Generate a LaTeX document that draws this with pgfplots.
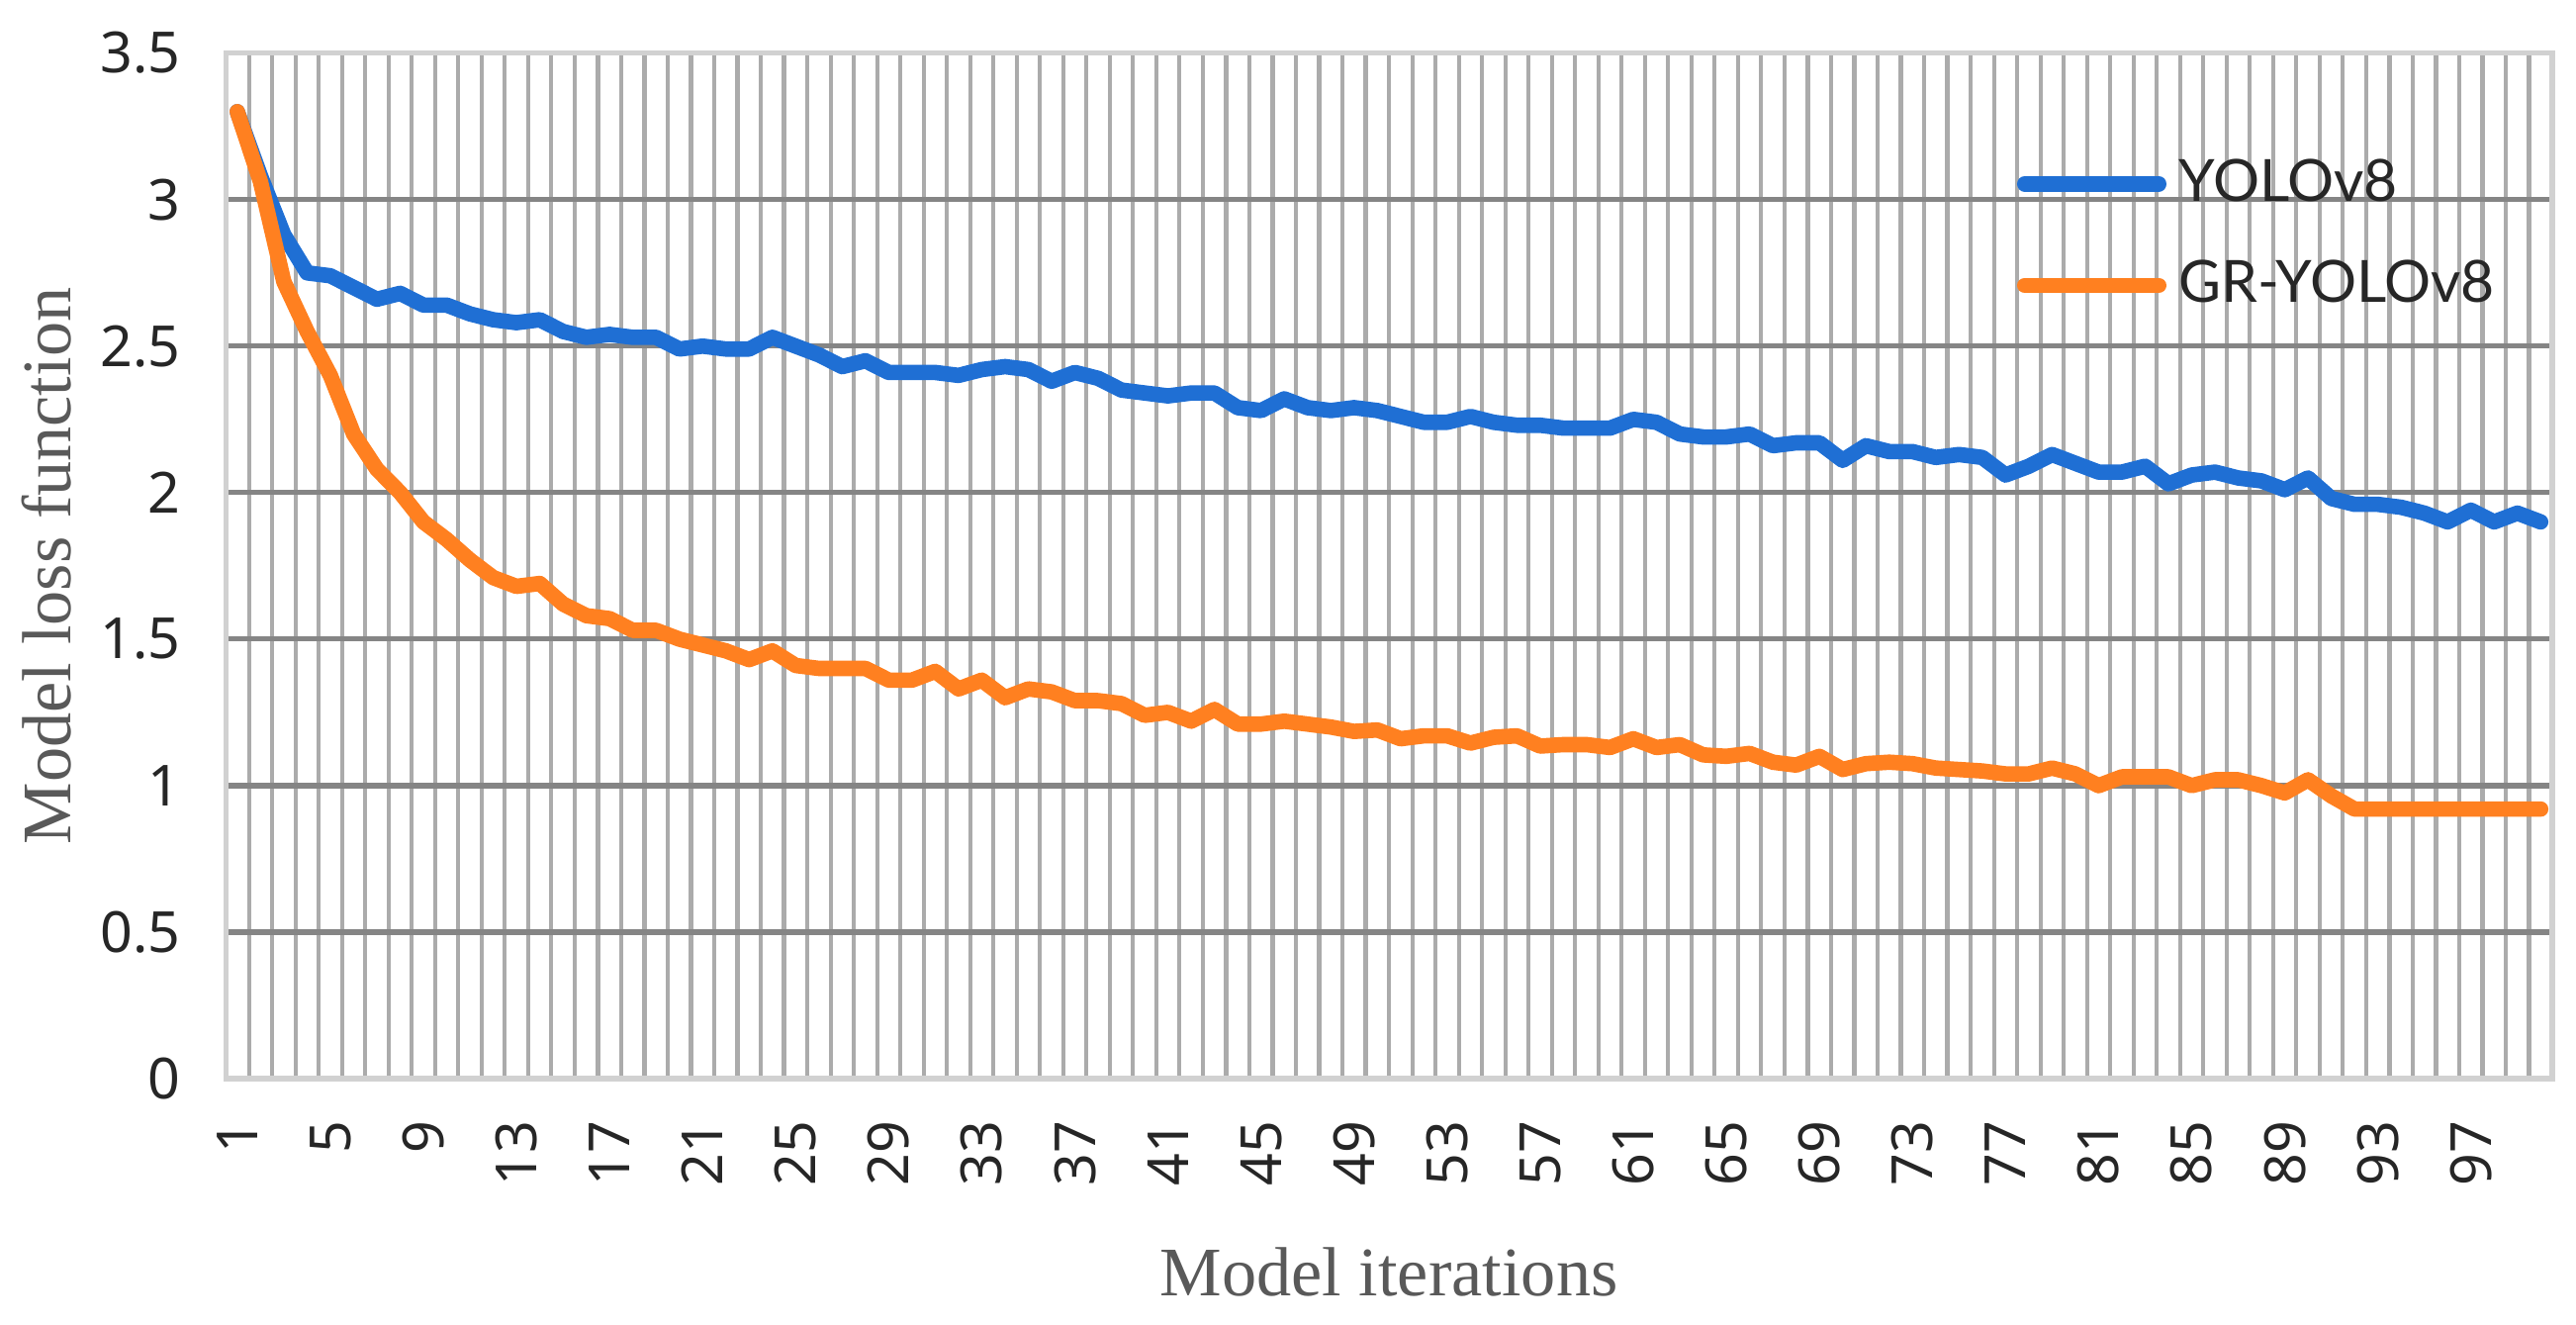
\documentclass[border=0pt]{standalone}
\usepackage{fontspec}
\setmainfont{Liberation Serif}
\newfontfamily\tickfont{Noto Sans}
\newfontfamily\legfont{Lato}
\usepackage{pgfplots}
\usepackage{pgfplotstable}
\pgfplotsset{compat=1.18}

\definecolor{yoloblue}{RGB}{31,111,212}
\definecolor{yoloorange}{RGB}{255,128,32}
\definecolor{labelgray}{RGB}{89,89,89}

% loss per iteration: YOLOv8 and GR-YOLOv8
\pgfplotstableread{
it  yolo  gr
1   3.30  3.30
2   3.08  3.06
3   2.88  2.72
4   2.75  2.55
5   2.74  2.40
6   2.70  2.20
7   2.66  2.08
8   2.68  2.00
9   2.64  1.90
10  2.64  1.84
11  2.61  1.77
12  2.59  1.71
13  2.58  1.68
14  2.59  1.69
15  2.55  1.62
16  2.53  1.58
17  2.54  1.57
18  2.53  1.53
19  2.53  1.53
20  2.49  1.50
21  2.50  1.48
22  2.49  1.46
23  2.49  1.43
24  2.53  1.46
25  2.50  1.41
26  2.47  1.40
27  2.43  1.40
28  2.45  1.40
29  2.41  1.36
30  2.41  1.36
31  2.41  1.39
32  2.40  1.33
33  2.42  1.36
34  2.43  1.30
35  2.42  1.33
36  2.38  1.32
37  2.41  1.29
38  2.39  1.29
39  2.35  1.28
40  2.34  1.24
41  2.33  1.25
42  2.34  1.22
43  2.34  1.26
44  2.29  1.21
45  2.28  1.21
46  2.32  1.22
47  2.29  1.21
48  2.28  1.20
49  2.29  1.185
50  2.28  1.19
51  2.26  1.16
52  2.24  1.17
53  2.24  1.17
54  2.26  1.145
55  2.24  1.165
56  2.23  1.17
57  2.23  1.135
58  2.22  1.14
59  2.22  1.14
60  2.22  1.13
61  2.25  1.16
62  2.24  1.13
63  2.20  1.14
64  2.19  1.105
65  2.19  1.10
66  2.20  1.11
67  2.16  1.08
68  2.17  1.07
69  2.17  1.10
70  2.11  1.055
71  2.16  1.075
72  2.14  1.08
73  2.14  1.075
74  2.12  1.06
75  2.13  1.055
76  2.12  1.05
77  2.06  1.04
78  2.09  1.04
79  2.13  1.06
80  2.10  1.04
81  2.07  1.00
82  2.07  1.03
83  2.09  1.03
84  2.03  1.03
85  2.06  1.00
86  2.07  1.02
87  2.05  1.02
88  2.04  1.00
89  2.01  0.975
90  2.05  1.02
91  1.98  0.965
92  1.96  0.92
93  1.96  0.92
94  1.95  0.92
95  1.93  0.92
96  1.90  0.92
97  1.94  0.92
98  1.90  0.92
99  1.93  0.92
100 1.90  0.92
}\losstable

\begin{document}
\begin{tikzpicture}
  \begin{axis}[name=ax,
      width=451.6pt, height=199pt, scale only axis,
      xmin=0.5, xmax=100.5, ymin=0, ymax=3.5,
      xtick={1,5,...,97},
      minor xtick={0.5,1.5,...,100.5},
      xmajorgrids=false, xminorgrids=true,
      ytick={0.5,1,1.5,2,2.5,3},
      extra y ticks={0,3.5},
      extra y tick style={grid=none},
      ymajorgrids=true,
      major grid style={draw=black!48, line width=1pt},
      minor grid style={draw=black!33, line width=0.8pt},
      major tick length=0pt, minor tick length=0pt,
      axis line style={draw=black!18, line width=1pt},
      tick label style={font=\tickfont\fontsize{11}{13}\selectfont, text=black!85},
      /pgf/number format/assume math mode=true,
      xticklabel style={rotate=90, anchor=east, inner sep=0pt},
      xticklabel shift=8pt,
      yticklabel style={anchor=east, inner sep=0pt},
      yticklabel shift=8.6pt,
      xlabel={Model iterations},
      ylabel={Model loss function},
      label style={font=\fontsize{13.5}{16}\selectfont, text=labelgray},
      xlabel style={at={(axis description cs:0.5,-0.212)}, anchor=base, inner sep=0pt},
      ylabel style={at={(axis description cs:-0.066,0.5)}, anchor=south, inner sep=0pt},
      legend style={draw=none, fill=none, at={(rel axis cs:0.7695,0.823)}, anchor=west,
        font=\legfont\fontsize{11.3}{13}\selectfont, text=black!85,
        row sep=10pt, column sep=2.4pt, inner sep=0pt, nodes={inner sep=0pt}},
      legend cell align=left,
      legend image code/.code={\draw[#1, line width=3pt, line cap=round] (0pt,0pt) -- (26pt,0pt);},
    ]
    \addplot[yoloblue, line width=3pt, line join=round, line cap=round]
      table[x=it, y=yolo]{\losstable};
    \addlegendentry{YOLOv8}
    \addplot[yoloorange, line width=3pt, line join=round, line cap=round]
      table[x=it, y=gr]{\losstable};
    \addlegendentry{GR-YOLOv8}
  \end{axis}
  \pgfresetboundingbox
  \path (ax.south west) ++(-43.8pt,-47.8pt) rectangle ++(500pt,257.1pt);
\end{tikzpicture}
\end{document}
